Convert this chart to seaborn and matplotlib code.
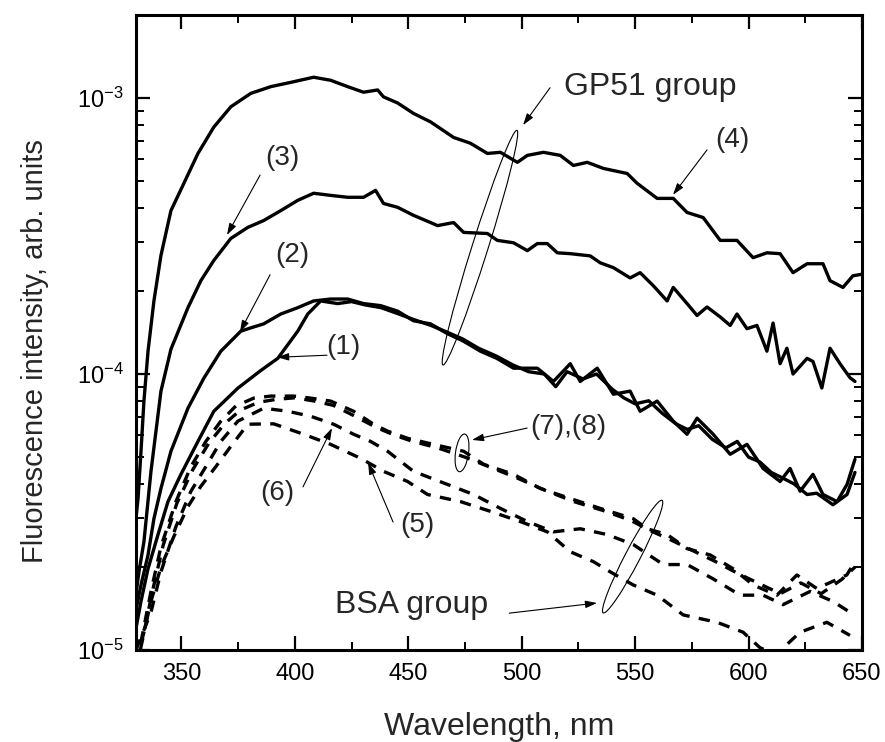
import numpy as np
import pandas as pd
import matplotlib
matplotlib.use('Agg')
import matplotlib.pyplot as plt
import matplotlib.transforms as mtransforms
from matplotlib.patches import Ellipse
from matplotlib.ticker import MultipleLocator, LogLocator, NullFormatter
import seaborn as sns

# ---------------- data ----------------
wl1 = [330.0, 332.2, 335.3, 339.7, 344.1, 349.8, 357.3, 364.3, 374.9, 385.0,
       392.5, 401.3, 405.7, 411.4, 418.9, 425.0, 431.0, 438.0, 445.0, 452.0,
       460.0, 467.0, 474.0, 481.0, 489.0, 496.0, 503.0, 510.0, 515.0, 520.0,
       527.0, 533.0, 540.0, 545.0, 550.0, 556.0, 562.0, 568.0, 573.0, 578.0,
       584.0, 590.0, 595.0, 600.0, 605.0, 610.0, 615.0, 620.0, 625.8, 630.0,
       637.2, 643.4, 646.9]
I1 = [1.2e-5, 1.50e-5, 1.97e-5, 2.62e-5, 3.45e-5, 4.33e-5, 5.70e-5, 7.33e-5, 8.89e-5, 1.03e-4,
      1.14e-4, 1.43e-4, 1.65e-4, 1.84e-4, 1.80e-4, 1.83e-4, 1.78e-4, 1.74e-4, 1.66e-4, 1.58e-4,
      1.50e-4, 1.42e-4, 1.34e-4, 1.24e-4, 1.16e-4, 1.08e-4, 1.02e-4, 1.0e-4, 9.0e-5, 1.02e-4,
      9.6e-5, 1.0e-4, 8.8e-5, 8.2e-5, 7.8e-5, 8.0e-5, 7.2e-5, 6.6e-5, 6.3e-5, 6.5e-5,
      5.8e-5, 5.4e-5, 5.7e-5, 5.0e-5, 4.8e-5, 4.4e-5, 4.2e-5, 4.0e-5, 3.66e-5, 3.7e-5,
      3.36e-5, 3.66e-5, 4.4e-5]

wl2 = [330.0, 332.2, 335.3, 337.9, 341.0, 345.4, 352.9, 359.9, 367.4, 376.2,
       380.6, 386.3, 393.8, 401.3, 408.3, 415.8, 423.3, 430.3, 437.8, 445.3,
       452.3, 459.8, 467.3, 474.0, 481.8, 489.0, 496.4, 506.9, 514.0, 521.4,
       525.8, 533.3, 540.4, 547.8, 552.2, 559.7, 566.8, 572.9, 577.3, 584.4,
       591.9, 599.3, 606.4, 613.9, 618.3, 622.7, 628.4, 632.8, 639.0, 643.4,
       646.9]
I2 = [1.4e-5, 1.72e-5, 2.21e-5, 2.99e-5, 3.85e-5, 5.25e-5, 7.52e-5, 9.66e-5, 1.21e-4, 1.43e-4,
      1.47e-4, 1.52e-4, 1.65e-4, 1.74e-4, 1.84e-4, 1.87e-4, 1.87e-4, 1.80e-4, 1.77e-4, 1.69e-4,
      1.56e-4, 1.52e-4, 1.40e-4, 1.32e-4, 1.21e-4, 1.14e-4, 1.05e-4, 1.05e-4, 9.4e-5, 1.09e-4,
      9.4e-5, 1.05e-4, 8.45e-5, 8.67e-5, 7.33e-5, 7.98e-5, 6.75e-5, 6.05e-5, 6.92e-5, 6.05e-5,
      5.12e-5, 5.56e-5, 4.55e-5, 4.08e-5, 4.55e-5, 3.76e-5, 4.33e-5, 3.66e-5, 3.45e-5, 3.98e-5,
      4.91e-5]

wl3 = [330.0, 331.3, 333.5, 336.6, 341.0, 345.4, 352.9, 358.6, 364.3, 371.8,
       379.3, 386.3, 393.8, 401.3, 408.3, 415.8, 423.3, 430.3, 435.6, 439.1,
       445.3, 452.3, 459.8, 462.9, 470.0, 474.4, 484.9, 489.3, 496.4, 502.5,
       506.9, 511.3, 515.7, 521.4, 530.2, 534.6, 540.4, 547.8, 552.2, 558.0,
       564.1, 566.8, 572.9, 577.3, 581.7, 587.5, 591.9, 594.9, 599.3, 603.7,
       608.1, 610.8, 613.9, 616.9, 619.6, 625.8, 628.4, 632.3, 635.9, 640.3,
       644.7, 646.9]
I3 = [1.6e-5, 1.92e-5, 2.47e-5, 4.44e-5, 8.67e-5, 1.23e-4, 1.74e-4, 2.18e-4, 2.58e-4, 3.10e-4,
      3.40e-4, 3.60e-4, 3.91e-4, 4.26e-4, 4.52e-4, 4.44e-4, 4.37e-4, 4.37e-4, 4.63e-4, 4.15e-4,
      4.02e-4, 3.76e-4, 3.54e-4, 3.45e-4, 3.54e-4, 3.26e-4, 3.23e-4, 3.05e-4, 2.99e-4, 2.80e-4,
      2.97e-4, 2.97e-4, 2.75e-4, 2.73e-4, 2.68e-4, 2.53e-4, 2.43e-4, 2.23e-4, 2.33e-4, 2.09e-4,
      1.84e-4, 2.06e-4, 1.80e-4, 1.63e-4, 1.75e-4, 1.61e-4, 1.50e-4, 1.65e-4, 1.46e-4, 1.50e-4,
      1.21e-4, 1.53e-4, 1.09e-4, 1.24e-4, 1.0e-4, 1.14e-4, 1.11e-4, 8.9e-5, 1.24e-4, 1.09e-4,
      9.7e-5, 9.4e-5]

wl4 = [330.0, 330.9, 332.2, 333.5, 335.3, 337.9, 341.0, 345.4, 351.1, 357.3, 364.3,
       371.8, 380.6, 389.4, 398.2, 408.3, 415.8, 423.3, 430.3, 436.5, 439.1,
       445.3, 452.3, 459.8, 470.0, 477.4, 484.9, 490.6, 498.1, 502.5, 509.6,
       517.0, 522.8, 528.9, 536.0, 546.5, 550.9, 559.7, 566.8, 572.9, 580.0,
       587.5, 594.9, 602.0, 608.1, 613.9, 619.6, 625.8, 632.8, 635.9, 641.6,
       646.0, 650.0]
I4 = [3.0e-5, 3.54e-5, 5.25e-5, 7.98e-5, 1.21e-4, 1.84e-4, 2.69e-4, 3.91e-4, 4.91e-4, 6.30e-4, 7.85e-4,
      9.30e-4, 1.04e-3, 1.10e-3, 1.14e-3, 1.19e-3, 1.16e-3, 1.10e-3, 1.05e-3, 1.07e-3, 1.01e-3,
      9.6e-4, 8.8e-4, 8.2e-4, 7.2e-4, 6.86e-4, 6.3e-4, 6.36e-4, 5.85e-4, 6.2e-4, 6.36e-4,
      6.2e-4, 5.7e-4, 5.85e-4, 5.56e-4, 5.33e-4, 4.91e-4, 4.33e-4, 4.33e-4, 3.85e-4, 3.69e-4,
      3.05e-4, 3.05e-4, 2.64e-4, 2.75e-4, 2.73e-4, 2.33e-4, 2.51e-4, 2.51e-4, 2.18e-4, 2.06e-4,
      2.27e-4, 2.3e-4]

wl5 = [330.0, 333.5, 336.6, 341.0, 346.7, 352.9, 358.6, 365.2, 371.8, 379.3,
       390.7, 403.9, 415.8, 429.0, 439.1, 449.7, 458.5, 473.0, 486.2, 499.4,
       511.3, 521.4, 531.6, 539.0, 549.2, 559.7, 571.2, 586.1, 597.6, 605.0,
       612.0, 622.7, 634.5, 644.7]
I5 = [9.0e-6, 1.16e-5, 1.50e-5, 2.0e-5, 2.58e-5, 3.31e-5, 3.92e-5, 4.62e-5, 5.47e-5, 6.58e-5,
      6.60e-5, 6.05e-5, 5.56e-5, 4.95e-5, 4.44e-5, 4.08e-5, 3.66e-5, 3.45e-5, 3.18e-5, 2.92e-5,
      2.68e-5, 2.27e-5, 2.09e-5, 1.92e-5, 1.72e-5, 1.58e-5, 1.34e-5, 1.26e-5, 1.16e-5, 1.02e-5,
      9.6e-6, 1.16e-5, 1.26e-5, 1.13e-5]

wl6 = [330.0, 336.6, 341.0, 347.6, 354.2, 360.8, 367.4, 374.9, 386.3, 396.9,
       407.0, 417.1, 425.9, 433.4, 440.9, 452.3, 467.3, 478.8, 490.6, 502.5,
       514.0, 525.8, 537.7, 549.2, 562.4, 572.9, 584.4, 596.3, 606.4, 615.2,
       627.1, 637.2, 644.7]
I6 = [1.0e-5, 1.37e-5, 1.92e-5, 2.80e-5, 3.76e-5, 4.62e-5, 5.70e-5, 6.75e-5, 7.52e-5, 7.33e-5,
      7.03e-5, 6.58e-5, 6.05e-5, 5.70e-5, 5.25e-5, 4.44e-5, 3.98e-5, 3.66e-5, 3.26e-5, 2.92e-5,
      2.68e-5, 2.75e-5, 2.62e-5, 2.41e-5, 2.04e-5, 2.04e-5, 1.81e-5, 1.58e-5, 1.58e-5, 1.46e-5,
      1.63e-5, 1.50e-5, 1.37e-5]

wl7 = [330.0, 333.0, 337.0, 342.0, 348.0, 355.0, 362.0, 369.0, 376.0, 384.0,
       392.0, 400.0, 408.0, 417.0, 427.0, 436.0, 444.0, 452.0, 463.0, 475.0,
       486.0, 498.0, 510.0, 523.0, 536.0, 548.0, 557.0, 566.0, 575.0, 585.0,
       595.0, 604.0, 614.0, 623.0, 632.0, 641.0, 647.0]
I7 = [8.5e-6, 1.1e-5, 1.6e-5, 2.4e-5, 3.4e-5, 4.5e-5, 5.6e-5, 6.6e-5, 7.4e-5, 7.9e-5,
      8.1e-5, 8.2e-5, 8.0e-5, 7.7e-5, 7.0e-5, 6.4e-5, 6.0e-5, 5.7e-5, 5.4e-5, 5.0e-5,
      4.6e-5, 4.2e-5, 3.8e-5, 3.45e-5, 3.2e-5, 2.95e-5, 2.7e-5, 2.5e-5, 2.3e-5, 2.1e-5,
      1.9e-5, 1.75e-5, 1.6e-5, 1.75e-5, 1.6e-5, 1.8e-5, 2.0e-5]

wl8 = [330.0, 332.2, 336.6, 341.0, 347.6, 354.2, 360.8, 367.4, 374.0, 381.9,
       389.4, 399.5, 407.0, 415.8, 425.9, 434.7, 440.9, 449.7, 461.1, 474.4,
       483.2, 496.4, 508.2, 521.4, 534.6, 549.2, 555.3, 564.1, 572.9, 583.1,
       593.2, 602.0, 612.5, 621.3, 630.1, 643.3, 646.9]
I8 = [9.0e-6, 1.07e-5, 1.63e-5, 2.37e-5, 3.45e-5, 4.62e-5, 5.70e-5, 6.75e-5, 7.66e-5, 8.18e-5,
      8.32e-5, 8.32e-5, 8.18e-5, 7.98e-5, 7.33e-5, 6.58e-5, 6.21e-5, 5.85e-5, 5.56e-5, 5.25e-5,
      4.71e-5, 4.33e-5, 3.85e-5, 3.54e-5, 3.26e-5, 2.99e-5, 2.75e-5, 2.62e-5, 2.33e-5, 2.21e-5,
      1.97e-5, 1.72e-5, 1.58e-5, 1.87e-5, 1.67e-5, 1.87e-5, 2.09e-5]

curve_names = ['(1)', '(2)', '(3)', '(4)', '(5)', '(6)', '(7)', '(8)']
x_ticks = [350, 400, 450, 500, 550, 600, 650]

# ---------------- build table ----------------
series = [(wl1, I1), (wl2, I2), (wl3, I3), (wl4, I4),
          (wl5, I5), (wl6, I6), (wl7, I7), (wl8, I8)]
frames = []
for name, (w, v) in zip(curve_names, series):
    frames.append(pd.DataFrame({'wl': w, 'I': v, 'curve': name}))
df = pd.concat(frames, ignore_index=True)
group = {'(1)': 'GP51', '(2)': 'GP51', '(3)': 'GP51', '(4)': 'GP51',
         '(5)': 'BSA', '(6)': 'BSA', '(7)': 'BSA', '(8)': 'BSA'}

# ---------------- style ----------------
sns.set_theme(style='ticks')
plt.rcParams['font.family'] = ['Liberation Sans', 'DejaVu Sans']
plt.rcParams['mathtext.fontset'] = 'custom'
plt.rcParams['mathtext.rm'] = 'Liberation Sans'
plt.rcParams['mathtext.it'] = 'Liberation Sans:italic'
plt.rcParams['mathtext.bf'] = 'Liberation Sans:bold'
plt.rcParams['mathtext.default'] = 'regular'

fig = plt.figure(figsize=(8.85, 7.42), dpi=100)
ax = fig.add_axes([136 / 885, 1 - 650 / 742, 726 / 885, 635 / 742])

for name in curve_names:
    sub = df[df['curve'] == name]
    ls = '-' if group[name] == 'GP51' else (0, (3.4, 2.8))
    sns.lineplot(data=sub, x='wl', y='I', ax=ax, color='black', lw=2.4,
                 linestyle=ls, errorbar=None, legend=False)

ax.set_yscale('log')

# ---------------- ellipses ----------------
def ellipse(cx, cy, length_px, width_px, angle):
    tr = fig.dpi_scale_trans + mtransforms.ScaledTranslation(cx, cy, ax.transData)
    ax.add_patch(Ellipse((0, 0), length_px / 100, width_px / 100, angle=angle,
                         transform=tr, fill=False, lw=0.8, ec='black'))

ellipse(481.6, 2.87e-4, 246, 16, 72.5)
ellipse(473.7, 5.18e-5, 38, 13, 82)
ellipse(548.9, 2.18e-5, 127, 15, 62.4)

# ---------------- annotations ----------------
def arrow(tail, head):
    ax.annotate('', xy=head, xytext=tail,
                arrowprops=dict(arrowstyle='-|>,head_length=0.5,head_width=0.16',
                                lw=0.8, color='black', shrinkA=0, shrinkB=0,
                                mutation_scale=14))

lab_fs = 20
grp_fs = 23
ax.text(394.4, 6.06e-4, '(3)', fontsize=lab_fs, ha='center', va='center')
arrow((384.7, 5.26e-4), (370.1, 3.19e-4))
ax.text(398.8, 2.70e-4, '(2)', fontsize=lab_fs, ha='center', va='center')
arrow((389.1, 2.29e-4), (375.8, 1.42e-4))
ax.text(421.2, 1.25e-4, '(1)', fontsize=lab_fs, ha='center', va='center')
arrow((414.2, 1.17e-4), (392.2, 1.15e-4))
ax.text(592.7, 7.05e-4, '(4)', fontsize=lab_fs, ha='center', va='center')
arrow((581.7, 6.49e-4), (566.7, 4.46e-4))
ax.text(556.6, 1.096e-3, 'GP51 group', fontsize=grp_fs, ha='center', va='center')
arrow((512.5, 1.09e-3), (500.6, 7.98e-4))
ax.text(520.4, 6.43e-5, '(7),(8)', fontsize=lab_fs, ha='center', va='center')
arrow((502.4, 6.37e-5), (478.1, 5.77e-5))
ax.text(392.2, 3.71e-5, '(6)', fontsize=lab_fs, ha='center', va='center')
arrow((403.6, 3.90e-5), (416.4, 6.37e-5))
ax.text(453.9, 2.84e-5, '(5)', fontsize=lab_fs, ha='center', va='center')
arrow((443.3, 2.91e-5), (432.3, 4.77e-5))
ax.text(451.5, 1.46e-5, 'BSA group', fontsize=grp_fs, ha='center', va='center')
arrow((494.5, 1.36e-5), (533.2, 1.48e-5))

# ---------------- axes ----------------
ax.set_xlim(330, 650)
ax.set_ylim(1e-5, 2e-3)
ax.set_xticks(x_ticks)
ax.xaxis.set_minor_locator(MultipleLocator(25))
ax.yaxis.set_major_locator(LogLocator(base=10, numticks=10))
ax.yaxis.set_minor_locator(LogLocator(base=10, subs=np.arange(2, 10), numticks=20))
ax.yaxis.set_minor_formatter(NullFormatter())
ax.tick_params(which='both', direction='in', top=True, right=True, color='black',
               labelcolor='black')
ax.tick_params(which='major', length=10, width=1.6, labelsize=17, pad=9)
ax.tick_params(which='minor', length=6, width=1.4)
for s in ax.spines.values():
    s.set_linewidth(2.2)
    s.set_color('black')

ax.set_xlabel('Wavelength, nm', fontsize=23, va='center')
ax.xaxis.set_label_coords(0.5, -0.121)
ax.set_ylabel('Fluorescence intensity, arb. units', fontsize=21, va='center')
ax.yaxis.set_label_coords(-0.139, 0.471)

fig.savefig('out.png', dpi=100)
